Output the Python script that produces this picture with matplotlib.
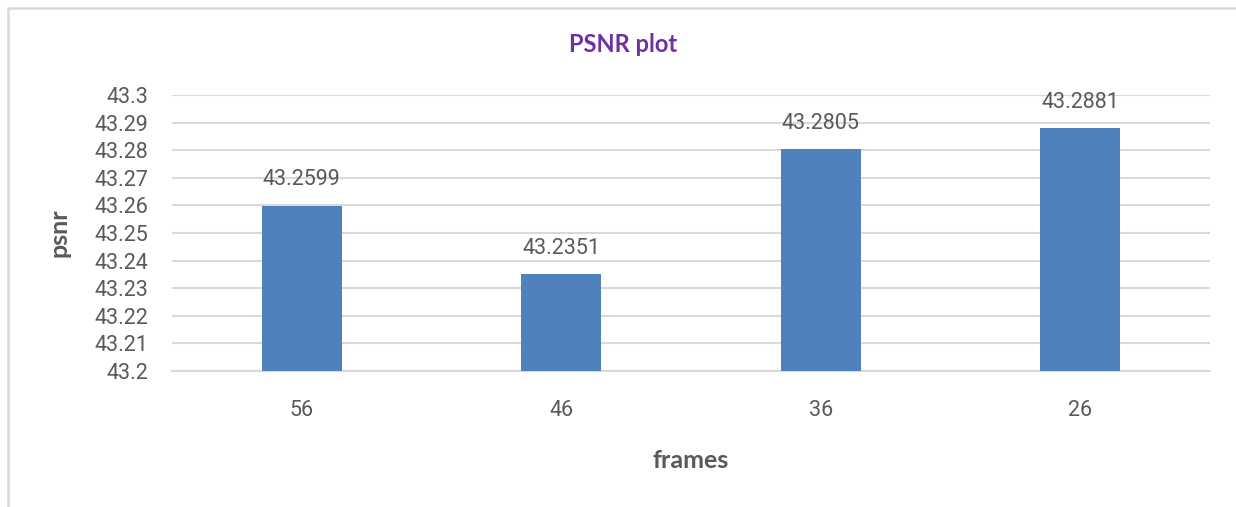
import matplotlib
matplotlib.use('Agg')
import matplotlib.pyplot as plt
from matplotlib.patches import Rectangle
import numpy as np

# chart data
frames = ['56', '46', '36', '26']
psnr = [43.2599, 43.2351, 43.2805, 43.2881]
yticks = [43.2, 43.21, 43.22, 43.23, 43.24, 43.25, 43.26, 43.27, 43.28, 43.29, 43.3]
ytick_labels = ['43.2', '43.21', '43.22', '43.23', '43.24', '43.25',
                '43.26', '43.27', '43.28', '43.29', '43.3']

BAR_COLOR = '#4F81BD'
TEXT_COLOR = '#595959'
GRID_COLOR = '#D9D9D9'
TITLE_COLOR = '#7030A0'

W, H = 1236, 507
fig = plt.figure(figsize=(W / 100, H / 100), dpi=100)

# outer chart border (left and top visible, the rest is cropped)
fig.patches.append(Rectangle((8 / W, -0.1), 1.2, 1 - 8 / H + 0.1,
                             transform=fig.transFigure, fill=False,
                             edgecolor=GRID_COLOR, linewidth=1.8))

ax = fig.add_axes([172 / W, 1 - 371 / H, (1210 - 172) / W, (371 - 95) / H])

x = np.arange(len(frames))
ax.bar(x, [v - yticks[0] for v in psnr], bottom=yticks[0], width=0.31,
       color=BAR_COLOR, zorder=3)

ax.set_xlim(-0.5, len(frames) - 0.5)
ax.set_ylim(yticks[0], yticks[-1])
ax.set_yticks(yticks)
ax.set_yticklabels(ytick_labels)
ax.set_xticks(x)
ax.set_xticklabels(frames)

ax.tick_params(axis='y', length=0, pad=17, labelsize=15.5, labelcolor=TEXT_COLOR)
ax.tick_params(axis='x', length=0, pad=21, labelsize=15.5, labelcolor=TEXT_COLOR)
for lab in ax.get_xticklabels() + ax.get_yticklabels():
    lab.set_family('Roboto')

for s in ['top', 'right', 'left']:
    ax.spines[s].set_visible(False)
ax.spines['bottom'].set_color(GRID_COLOR)
ax.spines['bottom'].set_linewidth(1.5)
ax.grid(axis='y', color=GRID_COLOR, linewidth=1.5, zorder=0)
ax.set_axisbelow(True)

# value labels above bars
for xi, v in zip(x, psnr):
    ax.annotate(f"{v}", (xi, v), xytext=(0, 11), textcoords='offset points',
                ha='center', va='bottom', fontsize=15.5, color=TEXT_COLOR,
                family='Roboto')

fig.text(623 / W, 1 - 45 / H, 'PSNR plot', ha='center', va='center',
         fontsize=17, fontweight='bold', color=TITLE_COLOR, family='Lato')
fig.text(691 / W, 1 - 461 / H, 'frames', ha='center', va='center',
         fontsize=18, fontweight='bold', color=TEXT_COLOR, family='Lato')
fig.text(59 / W, 1 - 233 / H, 'psnr', ha='center', va='center', rotation=90,
         fontsize=18, fontweight='bold', color=TEXT_COLOR, family='Lato')

fig.savefig('out.png', dpi=100)
plt.close(fig)
